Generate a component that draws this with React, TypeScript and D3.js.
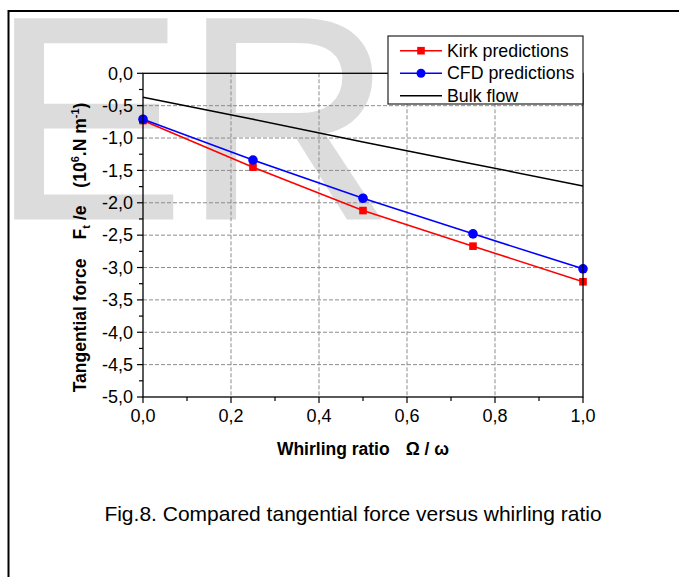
import React from "react";
import * as d3 from "d3";

const X_VALUES = [0, 0.25, 0.5, 0.75, 1.0];
const KIRK = [-0.73, -1.45, -2.12, -2.67, -3.22];
const CFD = [-0.71, -1.34, -1.93, -2.48, -3.02];
const BULK = [-0.37, -0.71, -1.06, -1.4, -1.74];
const X_TICKS = [0, 0.2, 0.4, 0.6, 0.8, 1.0];
const X_MINOR = [0.1, 0.3, 0.5, 0.7, 0.9];
const Y_TICKS = [0, -0.5, -1, -1.5, -2, -2.5, -3, -3.5, -4, -4.5, -5];
const Y_MINOR = [-0.25, -0.75, -1.25, -1.75, -2.25, -2.75, -3.25, -3.75, -4.25, -4.75];
const LEGEND = ["Kirk predictions", "CFD predictions", "Bulk flow"];
const CAPTION = "Fig.8. Compared tangential force versus whirling ratio";

const W = 679;
const H = 577;
const FONT = "'Liberation Sans', Arial, Helvetica, sans-serif";

export default function App() {
  const left = 143, right = 583, top = 73.3, bottom = 397;
  const x = d3.scaleLinear().domain([0, 1]).range([left, right]);
  const y = d3.scaleLinear().domain([-5, 0]).range([bottom, top]);
  const fmt = (v: number) => d3.format(".1f")(v).replace(".", ",").replace("−", "-");
  const line = d3
    .line<[number, number]>()
    .x((d) => x(d[0]))
    .y((d) => y(d[1]));
  const pts = (arr: number[]) => X_VALUES.map((xv, i) => [xv, arr[i]] as [number, number]);

  const lgX = 388, lgY = 36, lgW = 195, lgH = 68;
  const rowY = [50.7, 73.3, 95.7];

  return (
    <svg
      width={W}
      height={H}
      style={{ position: "absolute", left: 0, top: 0, display: "block", background: "#fff" }}
      fontFamily={FONT}
    >
      <rect x={0} y={0} width={W} height={H} fill="#fff" />
      {/* watermark */}
      <text x={-8} y={218} fontSize={288} fill="#dcdcdc" stroke="#dcdcdc" strokeWidth={3} fontFamily={FONT}>
        ER
      </text>
      {/* outer frame */}
      <rect x={8.5} y={11} width={W + 20} height={H + 20} fill="none" stroke="#000" strokeWidth={2} />

      {/* grid */}
      <g stroke="#8c8c8c" strokeWidth={1} strokeDasharray="4,2">
        {X_TICKS.filter((t) => t > 0 && t < 1).map((t) => (
          <line key={"gx" + t} x1={x(t)} x2={x(t)} y1={top} y2={bottom} />
        ))}
        {Y_TICKS.filter((t) => t < 0 && t > -5).map((t) => (
          <line key={"gy" + t} x1={left} x2={right} y1={y(t)} y2={y(t)} />
        ))}
      </g>

      {/* series */}
      <path d={line(pts(BULK)) || ""} fill="none" stroke="#000" strokeWidth={1.5} />
      <path d={line(pts(KIRK)) || ""} fill="none" stroke="#ff0000" strokeWidth={1.6} />
      {pts(KIRK).map((p, i) => (
        <rect key={"k" + i} x={x(p[0]) - 3.8} y={y(p[1]) - 3.8} width={7.6} height={7.6} fill="#ff0000" />
      ))}
      <path d={line(pts(CFD)) || ""} fill="none" stroke="#0000ff" strokeWidth={1.6} />
      {pts(CFD).map((p, i) => (
        <circle key={"c" + i} cx={x(p[0])} cy={y(p[1])} r={4.8} fill="#0000ff" />
      ))}

      {/* axes box */}
      <rect x={left} y={top} width={right - left} height={bottom - top} fill="none" stroke="#000" strokeWidth={1.3} />

      {/* ticks */}
      <g stroke="#000" strokeWidth={1.2}>
        {X_TICKS.map((t) => (
          <line key={"xt" + t} x1={x(t)} x2={x(t)} y1={bottom} y2={bottom + 6} />
        ))}
        {X_MINOR.map((t) => (
          <line key={"xm" + t} x1={x(t)} x2={x(t)} y1={bottom} y2={bottom + 4} />
        ))}
        {Y_TICKS.map((t) => (
          <line key={"yt" + t} x1={left - 6} x2={left} y1={y(t)} y2={y(t)} />
        ))}
        {Y_MINOR.map((t) => (
          <line key={"ym" + t} x1={left - 4} x2={left} y1={y(t)} y2={y(t)} />
        ))}
      </g>
      <g fontSize={18} fill="#000">
        {X_TICKS.map((t) => (
          <text key={"xl" + t} x={x(t)} y={bottom + 25} textAnchor="middle">
            {fmt(t)}
          </text>
        ))}
        {Y_TICKS.map((t) => (
          <text key={"yl" + t} x={left - 10} y={y(t) + 6.3} textAnchor="end">
            {fmt(t)}
          </text>
        ))}
      </g>

      {/* x axis title */}
      <text x={(left + right) / 2} y={455} textAnchor="middle" fontSize={17.5} fontWeight="bold">
        Whirling ratio
        <tspan dx={16}>Ω / ω</tspan>
      </text>

      {/* y axis title */}
      <text
        transform={`translate(86, ${(102 + 393) / 2}) rotate(-90)`}
        textAnchor="middle"
        fontSize={17.5}
        fontWeight="bold"
      >
        Tangential force
        <tspan dx={19}>F</tspan>
        <tspan fontSize={11} dy={4}>t</tspan>
        <tspan dy={-4}> /e</tspan>
        <tspan dx={18}>(10</tspan>
        <tspan fontSize={11} dy={-7}>6</tspan>
        <tspan dy={7}>.N m</tspan>
        <tspan fontSize={11} dy={-7}>-1</tspan>
        <tspan dy={7}>)</tspan>
      </text>

      {/* legend */}
      <rect x={lgX} y={lgY} width={lgW} height={lgH} fill="#fff" stroke="#222" strokeWidth={1.2} />
      {LEGEND.map((name, i) => {
        const col = i === 0 ? "#ff0000" : i === 1 ? "#0000ff" : "#000";
        return (
          <g key={name}>
            <line x1={400} x2={442} y1={rowY[i]} y2={rowY[i]} stroke={col} strokeWidth={1.6} />
            {i === 0 && <rect x={421 - 3.8} y={rowY[i] - 3.8} width={7.6} height={7.6} fill={col} />}
            {i === 1 && <circle cx={421} cy={rowY[i]} r={4.5} fill={col} />}
            <text x={447} y={rowY[i] + 6} fontSize={17.8} fill="#000">
              {name}
            </text>
          </g>
        );
      })}

      {/* caption */}
      <text x={353} y={521} textAnchor="middle" fontSize={21} fill="#000">
        {CAPTION}
      </text>
    </svg>
  );
}
